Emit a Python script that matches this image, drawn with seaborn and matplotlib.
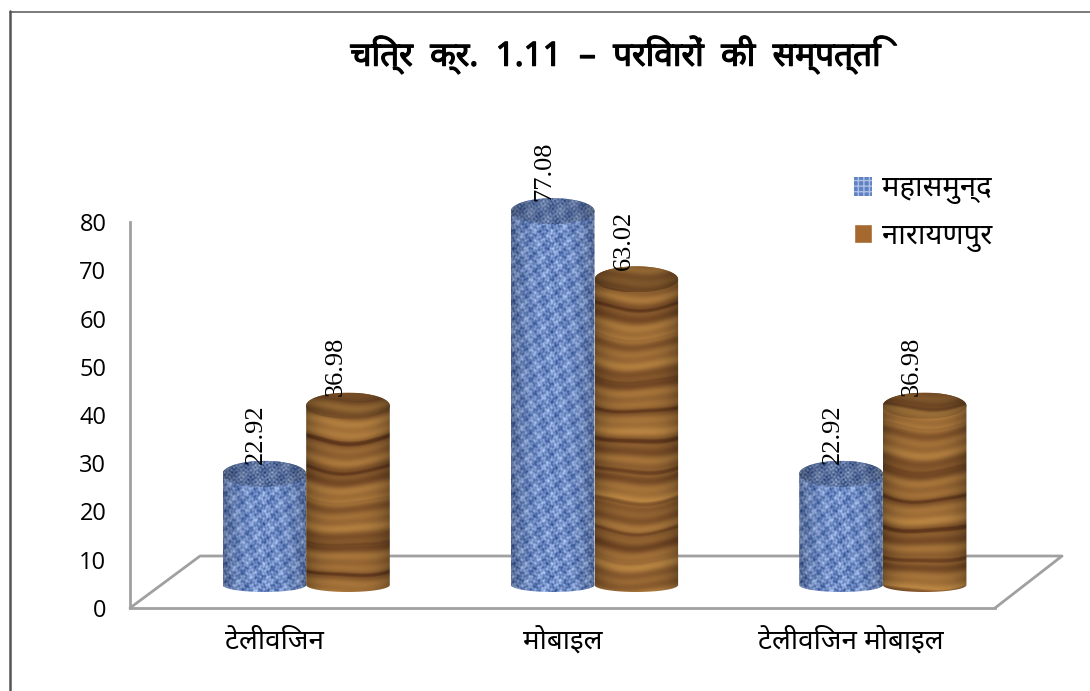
import numpy as np
import pandas as pd
import matplotlib
matplotlib.use("Agg")
import matplotlib.pyplot as plt
import matplotlib.patheffects as pe
from matplotlib.lines import Line2D
from matplotlib.patches import Polygon
import seaborn as sns

categories = ["टेलीविजन", "मोबाइल", "टेलीविजन मोबाइल"]
series_names = ["महासमुन्द", "नारायणपुर"]
mahasamund = [22.92, 77.08, 22.92]
narayanpur = [36.98, 63.02, 36.98]
y_ticks = [0, 10, 20, 30, 40, 50, 60, 70, 80]
title = "चित्र  क्र.  1.11  –  परिवारों  की  सम्पत्ति"

W, H = 1090, 691

sns.set_theme(style="white")
plt.rcParams["font.family"] = ["Noto Sans", "DejaVu Sans"]


def weave(nx, ny, fine=1.0):
    # blue burlap look, no real meaning
    x, y = np.meshgrid(np.arange(nx), np.arange(ny))
    f = 0.72 * fine
    v = np.sin(x * f) * np.sin(y * f)
    v += 0.8 * np.sin(x * 0.31 + y * 0.13) * np.sin(y * 0.23 - x * 0.09)
    v += 0.5 * np.sin(x * 1.9 + 1.7 * np.sin(y * 0.53))
    v += 0.4 * np.sin(y * 1.7 + 1.9 * np.sin(x * 0.41))
    v = np.clip(v / 2.0 * 0.5 + 0.5, 0, 1)[..., None]
    dark = np.array([0.18, 0.31, 0.58])
    light = np.array([0.72, 0.81, 0.98])
    img = dark + (light - dark) * v
    shade = 1 - 0.25 * np.abs(2 * x / max(nx - 1, 1) - 1)[..., None] ** 3
    return img * shade


def wood(nx, ny, phase=0.0):
    x, y = np.meshgrid(np.arange(nx), np.arange(ny))
    u = 2 * x / max(nx - 1, 1) - 1
    yy = y - 6 * (1 - u ** 2) + phase + 1.5 * np.sin(x * 0.07 + y * 0.03)
    v = 0.5 * np.sin(yy * 0.19) + 0.35 * np.sin(yy * 0.47 + 1) + 0.3 * np.sin(yy * 0.083 + 2)
    streak = np.clip(np.sin(yy * 0.31 + 0.6) * np.sin(yy * 0.113), 0.6, 1) - 0.6
    v = np.clip(v / 2.6 + 0.55 - streak * 1.2, 0, 1)[..., None]
    dark = np.array([0.38, 0.22, 0.11])
    light = np.array([0.75, 0.54, 0.27])
    img = dark + (light - dark) * v
    shade = 1 - 0.28 * np.abs(u)[..., None] ** 3
    return img * shade


fig = plt.figure(figsize=(W / 100, H / 100), dpi=100)

# frame axes carries the value axis, category labels and the 3d floor
frame = fig.add_axes([130 / W, (H - 608) / H, 865 / W, 386 / H])
frame.set_xlim(-0.5, 2.5)
frame.set_ylim(0, 80)
frame.set_yticks(y_ticks)
frame.set_xticks(range(3))
frame.set_xticklabels(categories, fontsize=20)
frame.tick_params(axis="y", length=0, pad=17, labelsize=17, labelcolor="black")
frame.tick_params(axis="x", length=0, pad=14, labelcolor="black")
for lab in frame.get_yticklabels():
    lab.set_family(["Open Sans", "DejaVu Sans"])
sns.despine(ax=frame, top=True, right=True)
for s in ["left", "bottom"]:
    frame.spines[s].set_color("#a0a0a0")
    frame.spines[s].set_linewidth(2)
frame.add_line(Line2D([0, 0.081, 1.0775, 1.0], [0, 0.1347, 0.1347, 0], transform=frame.transAxes,
                      color="#a0a0a0", lw=2, clip_on=False))

# bars sit on the floor, so their axes is shifted up and right
ax = fig.add_axes([162 / W, (H - 585) / H, 865 / W, 388 / H])
df = pd.DataFrame({
    "category": categories * 2,
    "series": [series_names[0]] * 3 + [series_names[1]] * 3,
    "value": mahasamund + narayanpur,
})
sns.barplot(data=df, x="category", y="value", hue="series", ax=ax, width=0.58, gap=0,
            palette=["#5f82c2", "#a5692f"], saturation=1, errorbar=None)
ax.set_xlim(-0.5, 2.5)
ax.set_ylim(0, 80)
ax.patch.set_alpha(0)

ry_top = 13 / 4.85
ry_bot = 7 / 4.85
n_group = 3
bars = [p for p in ax.patches if p.get_height() > 0]
for i, bar in enumerate(bars):
    x0, w, h = bar.get_x(), bar.get_width(), bar.get_height()
    bar.set_visible(False)
    t = np.linspace(0, np.pi, 40)
    cx = x0 + w / 2
    top = np.c_[cx - w / 2 * np.cos(t), h + ry_top * np.sin(t)]
    bot = np.c_[cx + w / 2 * np.cos(t), -ry_bot * np.sin(t)]
    body = Polygon(np.r_[top, bot], closed=True, transform=ax.transData, fc="none", ec="none")
    ax.add_patch(body)
    nx = 86
    ny = int((h + ry_top + ry_bot) * 4.85)
    blue = i < n_group
    img = weave(nx, ny) if blue else wood(nx, ny, phase=37.0 * i)
    im = ax.imshow(img, extent=(x0, x0 + w, -ry_bot, h + ry_top), aspect="auto", interpolation="bilinear",
                   zorder=2 + i)
    im.set_clip_box(fig.bbox)
    im.set_clip_path(body)
    # top face of the cylinder
    e = np.linspace(0, 2 * np.pi, 60)
    cap = Polygon(np.c_[cx + w / 2 * np.cos(e), h + ry_top * np.sin(e)], closed=True, transform=ax.transData,
                  fc="none", ec="none")
    ax.add_patch(cap)
    capimg = (weave(nx, 26, fine=1.8) * 0.8) if blue else (wood(nx, 26, phase=11.0 * i) * 0.85)
    imc = ax.imshow(capimg, extent=(x0, x0 + w, h - ry_top, h + ry_top), aspect="auto", interpolation="bilinear",
                    zorder=2 + i)
    imc.set_clip_box(fig.bbox)
    imc.set_clip_path(cap)
    dx = -6 if blue else -9
    ax.annotate(f"{h:.2f}", xy=(cx, h), xytext=(dx, 7), textcoords="offset points", rotation=90,
                ha="center", va="bottom", fontsize=19, family="Liberation Serif", color="black", zorder=20)
ax.set_xlim(-0.5, 2.5)
ax.set_ylim(0, 80)
ax.set_axis_off()

sns.move_legend(ax, loc="upper left", bbox_to_anchor=(0.800, 1.058), frameon=False, title=None,
                fontsize=21, handlelength=0.62, handleheight=0.62, handletextpad=0.33, labelspacing=0.6,
                labelcolor="black", borderpad=0, borderaxespad=0)
handle = ax.get_legend().legend_handles[0]
handle.set_hatch("+++")
handle.set_edgecolor("#aebfe6")
handle.set_linewidth(0)

# chart border, left and top only
fig.add_artist(Line2D([10 / W, 10 / W], [0, 1 - 11 / H], color="#555555", lw=1.8))
fig.add_artist(Line2D([10 / W, 1], [1 - 11.5 / H, 1 - 11.5 / H], color="#555555", lw=1.1))
fig.text(615 / W, 1 - 55 / H, title, ha="center", va="center", fontsize=24, color="black",
         path_effects=[pe.withStroke(linewidth=0.9, foreground="black")])

fig.savefig("out.png", dpi=100)
